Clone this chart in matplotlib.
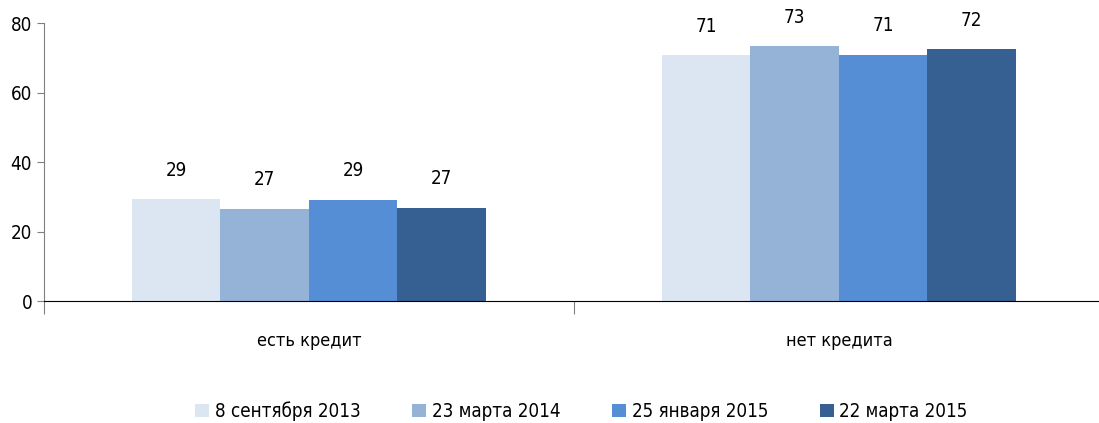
import matplotlib.pyplot as plt
import numpy as np

plt.rcParams['font.family'] = ['DejaVu Sans']
plt.rcParams['font.stretch'] = 'condensed'

categories = ['есть кредит', 'нет кредита']
series = ['8 сентября 2013', '23 марта 2014', '25 января 2015', '22 марта 2015']
values = [
    [29.3, 70.7],
    [26.6, 73.4],
    [29.1, 70.9],
    [26.8, 72.4],
]
colors = ['#DCE6F2', '#95B3D7', '#558ED5', '#376092']

fig = plt.figure(figsize=(10.99, 4.23), dpi=100)
ax = fig.add_axes([0.04, 0.2884, 0.9645, 0.657])

x = np.arange(len(categories))
w = 0.167
for i, (name, vals) in enumerate(zip(series, values)):
    pos = x + (i - 1.5) * w
    ax.bar(pos, vals, width=w, color=colors[i], label=name)
    for px, v in zip(pos, vals):
        ax.annotate('%d' % round(v), (px, v), xytext=(0, 14), textcoords='offset points',
                    ha='center', va='bottom', fontsize=13.5)

ax.set_ylim(0, 80)
ax.set_yticks([0, 20, 40, 60, 80])
ax.set_xlim(-0.5, 1.5)
ax.set_xticks([-0.5, 0.5, 1.5])
ax.set_xticklabels([])
ax.set_xticks(x, minor=True)
ax.set_xticklabels(categories, minor=True, fontsize=13)
ax.tick_params(axis='x', which='major', length=9, color='#808080')
ax.tick_params(axis='x', which='minor', length=0, pad=22)
ax.tick_params(axis='y', length=5, labelsize=13.5, color='#808080')
for s in ['top', 'right']:
    ax.spines[s].set_visible(False)
ax.spines['left'].set_color('#808080')
ax.spines['bottom'].set_color('black')

fig.legend(loc='lower center', bbox_to_anchor=(0.529, -0.035), ncol=4, frameon=False,
           fontsize=13.5, handlelength=0.75, handleheight=0.75, handletextpad=0.3,
           columnspacing=2.75)

fig.savefig('out.png')
